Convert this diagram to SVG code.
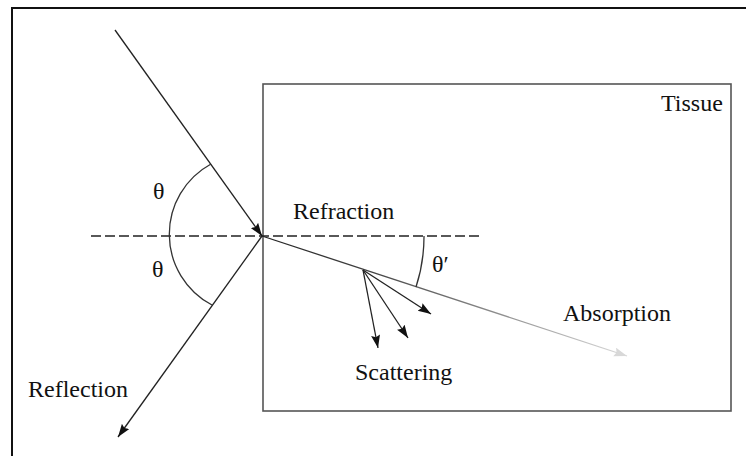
<svg xmlns="http://www.w3.org/2000/svg" width="746" height="456" viewBox="0 0 746 456">
<style>
text{font-family:"Liberation Serif","Times New Roman",serif;font-size:24px;fill:#111}
.ray{stroke:#222;stroke-width:1.3;fill:none}
.arc{stroke:#333;stroke-width:1.3;fill:none}
</style>
<defs>
<marker id="ah" markerUnits="userSpaceOnUse" markerWidth="14" markerHeight="10" refX="13" refY="4.5" orient="auto">
<path d="M0,0 L13,4.5 L0,9 L2,4.5 z" fill="#111"/>
</marker>
<marker id="ahl" markerUnits="userSpaceOnUse" markerWidth="14" markerHeight="10" refX="13" refY="4.5" orient="auto">
<path d="M0,0 L13,4.5 L0,9 L2,4.5 z" fill="#d8d8d8"/>
</marker>
<linearGradient id="fade" gradientUnits="userSpaceOnUse" x1="262" y1="236" x2="627" y2="356">
<stop offset="0" stop-color="#222"/>
<stop offset="0.3" stop-color="#444"/>
<stop offset="1" stop-color="#dadada"/>
</linearGradient>
</defs>
<rect width="746" height="456" fill="#fff"/>
<path d="M12,456 V8 H746" fill="none" stroke="#111" stroke-width="2"/>
<g id="tissue">
<rect x="263" y="84" width="468" height="327" fill="none" stroke="#555" stroke-width="1.6"/>
<text x="661" y="111">Tissue</text>
</g>
<g id="normal">
<line x1="91" y1="236" x2="482" y2="236" stroke="#222" stroke-width="1.5" stroke-dasharray="10,4"/>
</g>
<g id="connectors">
<line class="ray" x1="115" y1="30" x2="262" y2="236" marker-end="url(#ah)"/>
<line class="ray" x1="262" y1="236" x2="118" y2="437" marker-end="url(#ah)"/>
<line x1="262" y1="236" x2="627" y2="356" stroke="url(#fade)" stroke-width="1.3" marker-end="url(#ahl)"/>
<line class="ray" x1="363" y1="270" x2="378" y2="348" marker-end="url(#ah)"/>
<line class="ray" x1="363" y1="270" x2="408" y2="338" marker-end="url(#ah)"/>
<line class="ray" x1="363" y1="270" x2="431" y2="314" marker-end="url(#ah)"/>
</g>
<g id="angles">
<path class="arc" d="M211,164 A80 80 0 0 0 212,305"/>
<path class="arc" d="M424,236 A162 162 0 0 1 416,287"/>
<text x="153" y="199">θ</text>
<text x="152" y="277">θ</text>
<text x="432" y="272">θ′</text>
</g>
<g id="labels">
<text x="293" y="219">Refraction</text>
<text x="355" y="380">Scattering</text>
<text x="563" y="321">Absorption</text>
<text x="28" y="397">Reflection</text>
</g>
</svg>
